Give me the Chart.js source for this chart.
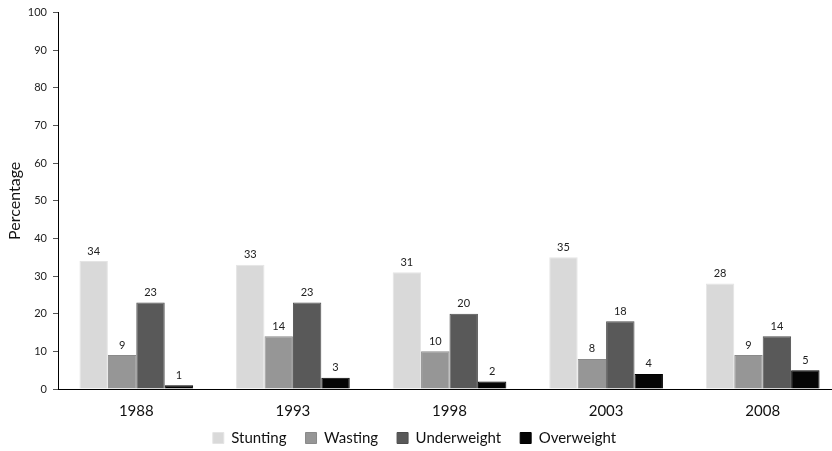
<!DOCTYPE html>
<html>
<head>
<meta charset="utf-8">
<script src="https://cdn.jsdelivr.net/npm/chart.js@4.4.1/dist/chart.umd.min.js"></script>
<style>
  html, body { margin: 0; padding: 0; background: #fff; overflow: hidden; }
  #wrap { position: relative; width: 841px; height: 451px; }
</style>
</head>
<body>
<div id="wrap"><canvas id="chart"></canvas></div>
<script>
// Survey years
const years = ['1988', '1993', '1998', '2003', '2008'];

// Percentage of children per indicator
const stunting    = [34, 33, 31, 35, 28];
const wasting     = [9, 14, 10, 8, 9];
const underweight = [23, 23, 20, 18, 14];
const overweight  = [1, 3, 2, 4, 5];

const seriesNames = ['Stunting', 'Wasting', 'Underweight', 'Overweight'];
const yTicks = [0, 10, 20, 30, 40, 50, 60, 70, 80, 90, 100];

const FONT = 'Lato, "Open Sans", sans-serif';

// Writes each bar's value just above it
const valueLabels = {
  id: 'valueLabels',
  afterDatasetsDraw(chart) {
    const ctx = chart.ctx;
    ctx.save();
    ctx.font = '11px ' + FONT;
    ctx.fillStyle = '#222';
    ctx.textAlign = 'center';
    ctx.textBaseline = 'middle';
    chart.data.datasets.forEach((ds, i) => {
      chart.getDatasetMeta(i).data.forEach((bar, j) => {
        ctx.fillText(String(ds.data[j]), bar.x, bar.y - 10);
      });
    });
    ctx.restore();
  }
};

// Places the legend row: a little left of centre, near the bottom edge
const legendShift = {
  id: 'legendShift',
  afterLayout(chart) {
    const lg = chart.legend;
    if (!lg) return;
    const dx = -6;
    const dy = 437.5 - (lg.top + 26);
    lg.left += dx; lg.right += dx;
    lg.top += dy; lg.bottom += dy;
  }
};

const colors = ['#d9d9d9', '#969696', '#595959', '#050505'];
const borders = ['#e4e4e4', '#8a8a8a', '#4e4e4e', '#000000'];
const values = [stunting, wasting, underweight, overweight];

new Chart(document.getElementById('chart'), {
  type: 'bar',
  data: {
    labels: years,
    datasets: seriesNames.map((name, i) => ({
      label: name,
      data: values[i],
      backgroundColor: colors[i],
      borderColor: borders[i],
      borderWidth: 1,
      categoryPercentage: 0.726,
      barPercentage: 1.0
    }))
  },
  options: {
    responsive: true,
    maintainAspectRatio: false,
    animation: false,
    layout: { padding: { top: 4, right: 0, bottom: -18, left: 0 } },
    plugins: {
      tooltip: { enabled: false },
      legend: {
        position: 'bottom',
        labels: {
          boxWidth: 11,
          boxHeight: 11,
          padding: 19,
          color: '#111',
          font: { family: FONT, size: 15 }
        }
      }
    },
    scales: {
      x: {
        afterFit(scale) { scale.height = 36; },
        grid: { display: false, drawTicks: false },
        border: { display: true, color: '#000', width: 1 },
        ticks: { color: '#111', padding: 13, font: { family: FONT, size: 15 } }
      },
      y: {
        min: 0,
        max: 100,
        afterFit(scale) { scale.width = 58; },
        afterBuildTicks(scale) { scale.ticks = yTicks.map(v => ({ value: v })); },
        grid: { drawOnChartArea: false, drawTicks: true, tickLength: 5, color: '#555' },
        border: { display: true, color: '#000', width: 1 },
        ticks: { color: '#222', padding: 6, font: { family: FONT, size: 11 } },
        title: {
          display: true,
          text: 'Percentage',
          color: '#111',
          padding: { top: 5, bottom: 0 },
          font: { family: FONT, size: 16 }
        }
      }
    }
  },
  plugins: [valueLabels, legendShift]
});
</script>
</body>
</html>
